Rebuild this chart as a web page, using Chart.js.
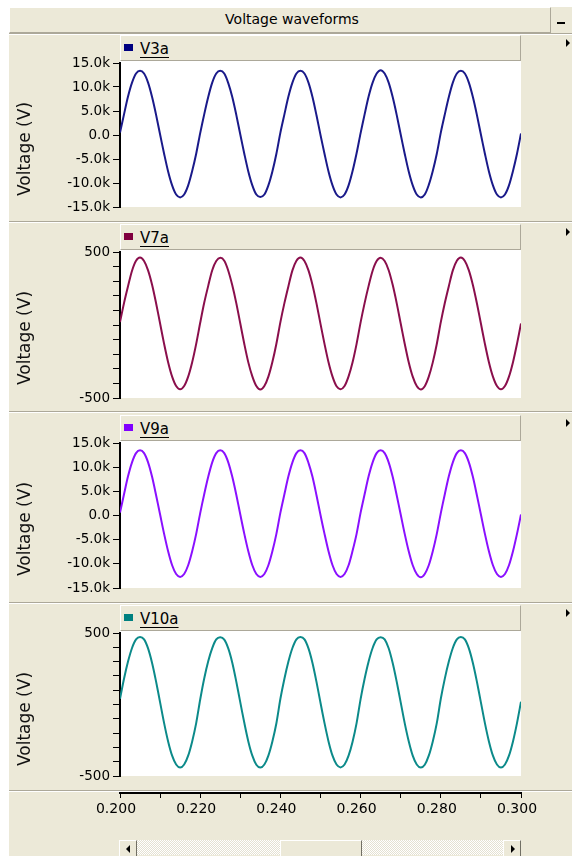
<!DOCTYPE html>
<html>
<head>
<meta charset="utf-8">
<script src="https://cdn.jsdelivr.net/npm/chart.js@4.4.0/dist/chart.umd.min.js"></script>
<style>
  body { margin: 0; width: 572px; height: 856px; overflow: hidden; background: #fff; position: relative; font-family: "DejaVu Sans", sans-serif; }
  .abs { position: absolute; }
  #frame { left: 9px; top: 7px; width: 563px; height: 849px; background: #ece9d8; }
  #titlebar { left: 9px; top: 7px; width: 540px; height: 24px; border-top: 1px solid #fff; border-left: 1px solid #fff; border-right: 1px solid #aca899; border-bottom: 1px solid #aca899; background: #ece9d8; z-index: 2; }
  #title { left: 0; width: 584px; top: 11px; line-height: 17px; font-size: 14px; text-align: center; color: #000; z-index: 3; }
  #minus { left: 557px; top: 22px; width: 8px; height: 2px; background: #000; z-index: 3; }
  .sep { left: 9px; width: 563px; height: 1px; background: #aca899; border-bottom: 1px solid #fff; z-index: 2; }
  .legend { left: 120px; width: 399px; height: 24px; background: #ece9d8; border-top: 1px solid #fff; border-left: 1px solid #fff; border-right: 1px solid #aca899; border-bottom: 1px solid #aca899; z-index: 2; }
  .swatch { left: 3px; top: 8px; width: 9px; height: 7px; }
  .legend span { position: absolute; left: 19px; top: 5px; font-size: 15px; line-height: 17px; color: #000; text-decoration: underline; text-underline-offset: 3px; }
  .arrow { left: 566px; width: 0; height: 0; border-left: 4px solid #000; border-top: 4px solid transparent; border-bottom: 4px solid transparent; z-index: 2; }
  .ytitle { width: 140px; left: -46px; font-size: 17px; line-height: 20px; text-align: center; color: #111; transform: rotate(-90deg); z-index: 2; }
  canvas { position: absolute; left: 0; z-index: 1; }
  .sb { top: 840px; height: 15px; z-index: 2; }
  .btn { background: #ece9d8; border-top: 1px solid #fff; border-left: 1px solid #fff; border-right: 1px solid #716f64; border-bottom: 1px solid #716f64; }
  .track { background: repeating-conic-gradient(#fff 0 25%, #e4e1d2 0 50%) 0 0 / 2px 2px; }
  .tri-l { position: absolute; left: 6px; top: 4px; border-right: 4px solid #000; border-top: 4px solid transparent; border-bottom: 4px solid transparent; }
  .tri-r { position: absolute; left: 7px; top: 4px; border-left: 4px solid #000; border-top: 4px solid transparent; border-bottom: 4px solid transparent; }
</style>
</head>
<body>
<div id="frame" class="abs"></div>
<div id="titlebar" class="abs"></div>
<div id="title" class="abs">Voltage waveforms</div>
<div id="minus" class="abs"></div>

<div class="abs sb btn" style="left:119px;width:16px;"><div class="tri-l"></div></div>
<div class="abs sb track" style="left:137px;width:143px;"></div>
<div class="abs sb btn" style="left:280px;width:80px;"></div>
<div class="abs sb track" style="left:362px;width:141px;"></div>
<div class="abs sb btn" style="left:503px;width:16px;"><div class="tri-r"></div></div>

<script>
// time axis (s), one sample per millisecond
const times = [
  0.200, 0.201, 0.202, 0.203, 0.204, 0.205, 0.206, 0.207, 0.208, 0.209,
  0.210, 0.211, 0.212, 0.213, 0.214, 0.215, 0.216, 0.217, 0.218, 0.219,
  0.220, 0.221, 0.222, 0.223, 0.224, 0.225, 0.226, 0.227, 0.228, 0.229,
  0.230, 0.231, 0.232, 0.233, 0.234, 0.235, 0.236, 0.237, 0.238, 0.239,
  0.240, 0.241, 0.242, 0.243, 0.244, 0.245, 0.246, 0.247, 0.248, 0.249,
  0.250, 0.251, 0.252, 0.253, 0.254, 0.255, 0.256, 0.257, 0.258, 0.259,
  0.260, 0.261, 0.262, 0.263, 0.264, 0.265, 0.266, 0.267, 0.268, 0.269,
  0.270, 0.271, 0.272, 0.273, 0.274, 0.275, 0.276, 0.277, 0.278, 0.279,
  0.280, 0.281, 0.282, 0.283, 0.284, 0.285, 0.286, 0.287, 0.288, 0.289,
  0.290, 0.291, 0.292, 0.293, 0.294, 0.295, 0.296, 0.297, 0.298, 0.299,
  0.300
];

const v3a = [
  500, 4300, 8000, 10900, 12800, 13400, 12800, 10900, 7900, 4200,
  100, -3900, -7600, -10500, -12400, -13000, -12400, -10500, -7500, -3900,
  400, 4300, 7900, 10900, 12800, 13400, 12800, 10800, 7900, 4200,
  100, -3900, -7600, -10500, -12400, -12900, -12400, -10500, -7600, -3900,
  500, 4300, 8000, 10900, 12800, 13400, 12800, 10900, 7900, 4100,
  0, -3900, -7600, -10500, -12400, -13000, -12400, -10500, -7500, -3800,
  400, 4300, 8000, 10900, 12800, 13500, 12800, 10900, 7900, 4200,
  100, -3900, -7600, -10500, -12400, -13000, -12400, -10400, -7500, -3900,
  500, 4300, 7900, 10900, 12800, 13400, 12800, 10900, 7900, 4200,
  100, -3900, -7600, -10500, -12400, -13000, -12400, -10500, -7500, -3900,
  300
];

const v7a = [
  20, 150, 265, 372, 440, 462, 438, 374, 275, 149,
  10, -129, -255, -354, -418, -440, -418, -354, -255, -129,
  15, 152, 268, 375, 438, 460, 440, 372, 272, 150,
  10, -130, -256, -352, -418, -442, -418, -354, -254, -128,
  20, 150, 266, 374, 440, 462, 438, 374, 274, 148,
  8, -129, -255, -354, -420, -440, -418, -352, -255, -129,
  18, 150, 268, 372, 438, 460, 438, 375, 275, 150,
  10, -128, -255, -354, -418, -441, -419, -354, -256, -130,
  20, 151, 266, 374, 440, 462, 438, 374, 274, 149,
  10, -129, -255, -354, -418, -440, -418, -354, -255, -129,
  10
];

const v9a = [
  600, 4400, 8100, 11000, 12900, 13500, 12900, 11000, 8000, 4200,
  200, -3800, -7400, -10300, -12100, -12700, -12100, -10300, -7400, -3800,
  500, 4400, 8000, 11000, 12900, 13500, 12900, 11000, 8000, 4300,
  200, -3800, -7400, -10300, -12100, -12700, -12100, -10300, -7400, -3800,
  600, 4400, 8100, 11000, 12900, 13500, 12900, 10900, 8000, 4200,
  100, -3800, -7400, -10300, -12100, -12700, -12100, -10300, -7300, -3800,
  600, 4400, 8100, 11000, 12900, 13500, 12900, 11000, 8000, 4200,
  200, -3800, -7400, -10300, -12100, -12800, -12100, -10300, -7400, -3800,
  500, 4400, 8100, 11000, 12900, 13500, 12900, 11000, 8000, 4200,
  200, -3800, -7400, -10300, -12100, -12700, -12100, -10300, -7400, -3800,
  200
];

const v10a = [
  40, 180, 300, 395, 455, 472, 455, 392, 290, 160,
  15, -130, -258, -358, -420, -441, -420, -358, -258, -130,
  35, 182, 302, 394, 455, 470, 454, 392, 292, 160,
  15, -128, -258, -358, -421, -441, -420, -357, -258, -131,
  40, 180, 300, 395, 456, 472, 455, 392, 290, 158,
  12, -130, -258, -358, -420, -440, -420, -358, -260, -130,
  38, 180, 301, 395, 455, 471, 455, 393, 290, 160,
  15, -130, -257, -358, -420, -441, -421, -358, -258, -130,
  40, 181, 300, 395, 455, 472, 455, 392, 290, 160,
  15, -130, -258, -358, -420, -441, -420, -358, -258, -130,
  20
];

const seriesNames = ['V3a', 'V7a', 'V9a', 'V10a'];
const seriesValues = [v3a, v7a, v9a, v10a];
const kiloTickLabels = ['-15.0k', '-10.0k', '-5.0k', '0.0', '5.0k', '10.0k', '15.0k'];
const unitTickLabels = ['-500', '500'];
const timeTickLabels = ['0.200', '0.220', '0.240', '0.260', '0.280', '0.300'];

// layout and styles
const lineColors = ['#1a1a8a', '#8a0f4c', '#8a10ff', '#0c8a8a'];
const swatchColors = ['#000080', '#800040', '#8000ff', '#008080'];
const kiloAxis = [true, false, true, false];
const plotTops = [63, 252, 443, 633];
const plotHeights = [144, 146, 145, 143];
const sepTops = [33, 221, 411, 602, 790];

Chart.defaults.font.family = '"DejaVu Sans", sans-serif';
Chart.defaults.color = '#000';

const plotBg = {
  id: 'plotBg',
  beforeDraw(chart) {
    const a = chart.chartArea;
    const ctx = chart.ctx;
    ctx.save();
    ctx.fillStyle = '#fff';
    ctx.fillRect(a.left, a.top - 2, a.right - a.left, a.bottom - a.top + 2);
    ctx.restore();
  }
};

function addDiv(cls, style, text) {
  const d = document.createElement('div');
  d.className = 'abs ' + cls;
  d.style.cssText = style;
  if (text) d.textContent = text;
  document.body.appendChild(d);
  return d;
}

sepTops.forEach(y => addDiv('sep', `top:${y}px`));

seriesNames.forEach((name, i) => {
  const top = plotTops[i];
  const h = plotHeights[i];

  const leg = addDiv('legend', `top:${top - 28}px`);
  const sw = document.createElement('div');
  sw.className = 'abs swatch';
  sw.style.background = swatchColors[i];
  leg.appendChild(sw);
  const lab = document.createElement('span');
  lab.textContent = name;
  leg.appendChild(lab);

  addDiv('arrow', `top:${top - 24}px`);
  addDiv('ytitle', `top:${top + 76}px`, 'Voltage (V)');

  const cv = document.createElement('canvas');
  cv.width = 572;
  cv.height = h + 30;
  cv.style.top = (top - 15) + 'px';
  document.body.appendChild(cv);

  const kilo = kiloAxis[i];
  new Chart(cv, {
    type: 'line',
    data: {
      datasets: [{
        label: name,
        data: times.map((t, k) => ({ x: t, y: seriesValues[i][k] })),
        borderColor: lineColors[i],
        borderWidth: 2,
        pointRadius: 0,
        tension: 0.3,
        fill: false
      }]
    },
    options: {
      responsive: false,
      animation: false,
      events: [],
      layout: { padding: { left: 0, right: 51, top: 15, bottom: 15 } },
      plugins: { legend: { display: false }, tooltip: { enabled: false } },
      scales: {
        x: { type: 'linear', min: 0.2, max: 0.3, display: false },
        y: {
          min: kilo ? -15000 : -500,
          max: kilo ? 15000 : 500,
          afterFit: s => { s.width = 120; },
          border: { display: true, color: '#000', width: 2 },
          grid: { drawOnChartArea: false, drawTicks: true, tickLength: 7, color: '#000', lineWidth: 1 },
          ticks: {
            stepSize: kilo ? 5000 : 100,
            autoSkip: false,
            padding: 3,
            font: { size: 13.5 },
            color: '#000',
            callback: (v, k) => kilo ? kiloTickLabels[k] : (unitTickLabels.includes(String(v)) ? String(v) : '')
          }
        }
      }
    },
    plugins: [plotBg]
  });
});

// shared time axis
const cx = document.createElement('canvas');
cx.width = 572;
cx.height = 43;
cx.style.top = '780px';
document.body.appendChild(cx);
new Chart(cx, {
  type: 'line',
  data: { datasets: [] },
  options: {
    responsive: false,
    animation: false,
    events: [],
    layout: { padding: { left: 120, right: 51, top: 2, bottom: 0 } },
    plugins: { legend: { display: false }, tooltip: { enabled: false } },
    scales: {
      x: {
        type: 'linear',
        position: 'bottom',
        min: 0.2,
        max: 0.3,
        afterFit: s => { s.height = 30; },
        border: { display: true, color: '#000', width: 2 },
        grid: { drawOnChartArea: false, tickLength: 5, color: '#000' },
        ticks: {
          stepSize: 0.01,
          autoSkip: false,
          maxRotation: 0,
          minRotation: 0,
          padding: 3,
          labelOffset: -4,
          font: { size: 14 },
          color: '#000',
          callback: v => {
            const s = v.toFixed(3);
            return timeTickLabels.includes(s) ? s : '';
          }
        }
      },
      y: { display: false }
    }
  }
});
</script>
</body>
</html>
